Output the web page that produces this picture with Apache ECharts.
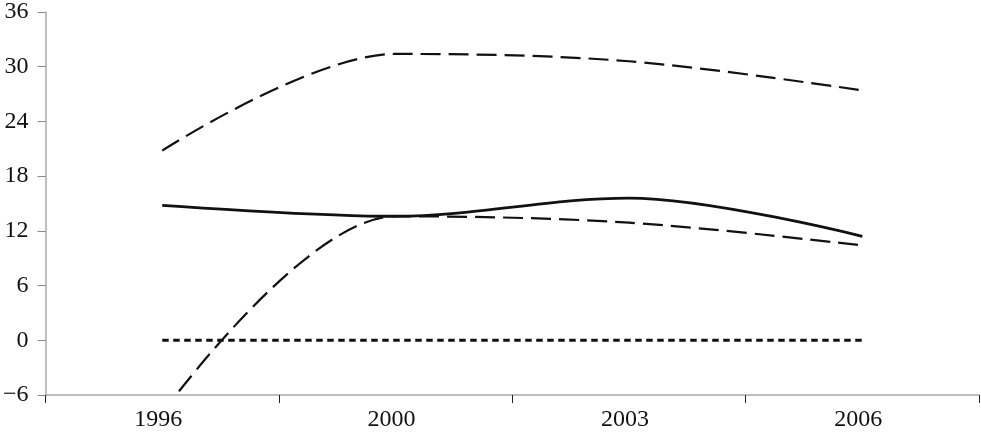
<!DOCTYPE html>
<html>
<head>
<meta charset="utf-8">
<script src="https://cdn.jsdelivr.net/npm/echarts@6/dist/echarts.min.js"></script>
<style>
html,body{margin:0;padding:0;background:#fff;}
#chart{width:981px;height:432px;}
</style>
</head>
<body>
<div id="chart"></div>
<script>
// Data
var years = ['1996', '2000', '2003', '2006'];
var upperDashed = [20.8, 31.4, 30.6, 27.4];
var solidLine = [14.8, 13.6, 15.6, 11.4];
var lowerDashed = [-8.0, 13.6, 12.9, 10.4];
var zeroLine = [0, 0, 0, 0];
var yTicks = { min: -6, max: 36, step: 6 };

var chart = echarts.init(document.getElementById('chart'), null, { renderer: 'canvas' });
var labelFont = 'Liberation Serif';
var lineColor = '#111';

function lineSeries(name, data, type, width, smooth) {
  return {
    name: name,
    type: 'line',
    data: data,
    symbol: 'none',
    showSymbol: false,
    smooth: smooth,
    clip: true,
    silent: true,
    lineStyle: { color: lineColor, width: width, type: type, cap: 'butt' }
  };
}

chart.setOption({
  animation: false,
  backgroundColor: '#fff',
  grid: { left: 45, right: 2, top: 7, bottom: 35, containLabel: false },
  xAxis: {
    type: 'category',
    data: years,
    boundaryGap: true,
    axisLine: { show: true, onZero: false, lineStyle: { color: '#a8a8a8', width: 1.5 } },
    axisTick: { show: true, length: 8, lineStyle: { color: '#222', width: 1 } },
    axisLabel: {
      color: '#111', fontFamily: labelFont, fontSize: 24, margin: 13,
      padding: [0, 8, 0, 0]
    },
    splitLine: { show: false }
  },
  yAxis: {
    type: 'value',
    min: yTicks.min,
    max: yTicks.max,
    interval: yTicks.step,
    axisLine: { show: true, lineStyle: { color: '#a8a8a8', width: 1.5 } },
    axisTick: { show: true, length: 8, lineStyle: { color: '#888', width: 1 } },
    axisLabel: {
      color: '#111', fontFamily: labelFont, fontSize: 24, margin: 17,
      formatter: function (v) { return v < 0 ? '\u2212' + Math.abs(v) : String(v); }
    },
    splitLine: { show: false }
  },
  series: [
    lineSeries('upper', upperDashed, [20, 8], 2.2, 0.34),
    lineSeries('solid', solidLine, 'solid', 2.8, 0.34),
    lineSeries('lower', lowerDashed, [20, 8], 2.2, 0.34),
    lineSeries('zero', zeroLine, [6.5, 4.5], 3, false)
  ]
});
</script>
</body>
</html>
